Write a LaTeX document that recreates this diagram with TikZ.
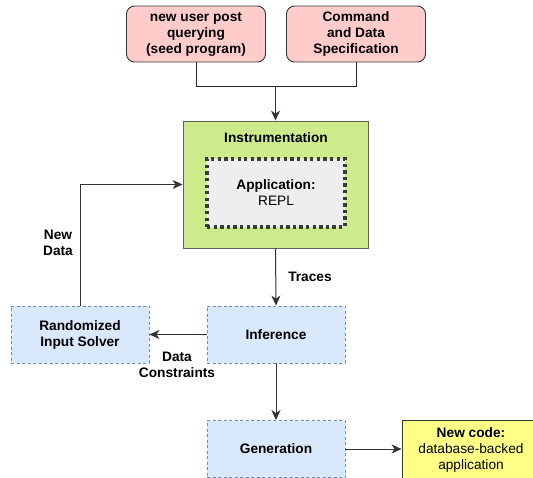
\documentclass[tikz,border=0pt]{standalone}
\usepackage{fontspec}
\setmainfont{Liberation Sans}
\usetikzlibrary{arrows.meta}
\definecolor{pinkfill}{HTML}{FFCCCC}
\definecolor{greenfill}{HTML}{CDEB8B}
\definecolor{darkline}{HTML}{36393D}
\definecolor{grayfill}{HTML}{EEEEEE}
\definecolor{bluefill}{HTML}{DAE8FC}
\definecolor{blueline}{HTML}{6C8EBF}
\definecolor{yellowfill}{HTML}{FFFF88}
\tikzset{
  base/.style={inner sep=0pt, align=center, font=\fontsize{13.7}{16}\selectfont},
  inputbox/.style={base, draw=darkline, fill=pinkfill, rounded corners=8pt, line width=0.9pt,
    minimum width=139pt, minimum height=56pt, font=\fontsize{13.7}{16}\selectfont\bfseries},
  instrbox/.style={base, draw=darkline!80, fill=greenfill, line width=0.9pt,
    minimum width=185pt, minimum height=127pt},
  appbox/.style={base, draw=darkline, fill=grayfill, line width=3.2pt,
    dash pattern=on 3.3pt off 3.3pt, minimum width=138pt, minimum height=68pt},
  stagebox/.style={base, draw=blueline, fill=bluefill, line width=0.8pt,
    dash pattern=on 3pt off 2.5pt, minimum width=138pt, minimum height=57pt,
    font=\fontsize{13.7}{16}\selectfont\bfseries},
  outbox/.style={base, draw=darkline, fill=yellowfill, line width=0.9pt,
    minimum width=138pt, minimum height=58pt},
  lbl/.style={base, font=\fontsize{13.7}{16}\selectfont\bfseries},
  flow/.style={line width=1pt, draw=black!80, -{Stealth[length=10pt,width=9pt,inset=3pt]}},
  link/.style={line width=1pt, draw=black!85},
}
\begin{document}
\begin{tikzpicture}[x=1pt, y=-1pt]
\useasboundingbox (0,0) rectangle (533,478);
\clip (0,0) rectangle (533,478);

% inputs
\node[inputbox] (seed) at (196,34) {new user post\\querying\\(seed program)};
\node[inputbox] (spec) at (356,34) {Command\\and Data\\Specification};

% instrumented application
\node[instrbox] (instr) at (275.5,184.5) {};
\node[lbl, anchor=center] (instrlbl) at (276,138) {Instrumentation};
\node[appbox] (app) at (276,193) {\textbf{Application:}\\REPL};

% pipeline stages
\node[stagebox] (infer) at (276,334.5) {Inference};
\node[stagebox] (solver) at (80,334.5) {Randomized\\Input Solver};
\node[stagebox] (gen) at (276,449) {Generation};
\node[outbox] (out) at (471,449.5) {\textbf{New code:}\\database-backed\\application};

% joining the two inputs
\coordinate (join) at (275.5,87);
\draw[link] (seed.south) |- (join);
\draw[link] (spec.south) |- (join);
\draw[flow] (join) -- (instr.north);

% main flow
\draw[flow] (instr.south) -- (infer.north);
\node[lbl] (traces) at (310,277) {Traces};
\draw[flow] (infer.west) -- (solver.east);
\node[lbl] (constraints) at (177,364.5) {Data\\Constraints};
\draw[flow] (solver.north) |- (instr.west);
\node[lbl] (newdata) at (58,243) {New\\Data};
\draw[flow] (gen.east) -- (gen.east -| out.west);
\draw[flow] (infer.south) -- (gen.north);
\end{tikzpicture}
\end{document}
